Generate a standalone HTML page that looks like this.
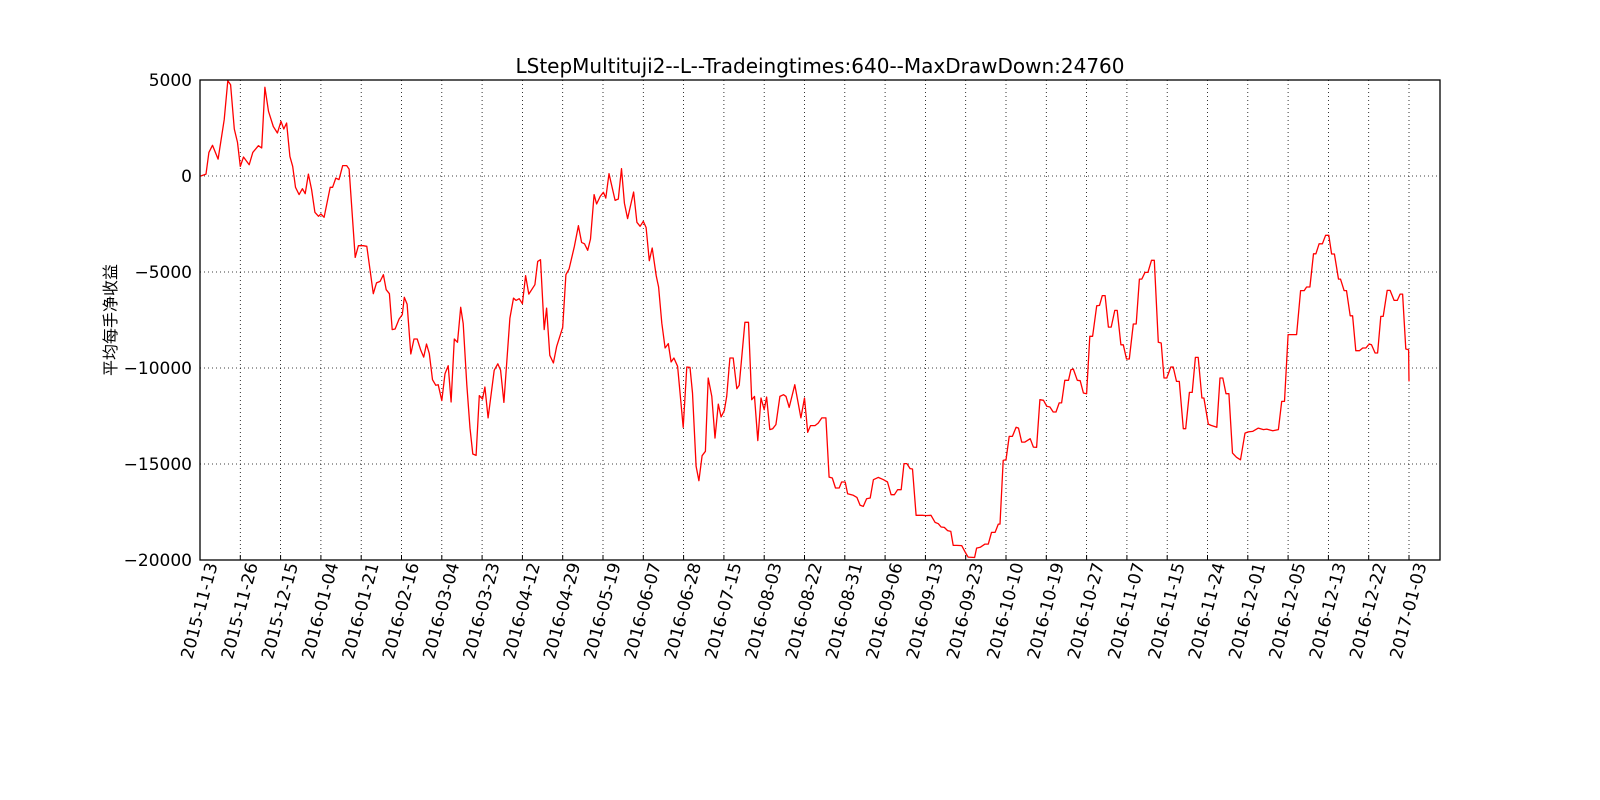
<!DOCTYPE html>
<html>
<head>
<meta charset="utf-8">
<style>
  html, body { margin: 0; padding: 0; background: #fff; }
  svg { display: block; }
  text { font-family: "DejaVu Sans", "Liberation Sans", "Noto Sans CJK SC", sans-serif; fill: #000; }
</style>
</head>
<body>
<svg id="chart" width="1600" height="800" viewBox="0 0 1600 800" xmlns="http://www.w3.org/2000/svg">
  <rect x="0" y="0" width="1600" height="800" fill="#fff"/>
  <g id="grid"></g>
  <g id="series"></g>
  <rect x="200" y="80" width="1240" height="480" fill="none" stroke="#000" stroke-width="1.3"/>
  <g id="xaxis"></g>
  <g id="yaxis"></g>
  <text x="820" y="73" font-size="20" text-anchor="middle">LStepMultituji2--L--Tradeingtimes:640--MaxDrawDown:24760</text>
  <text x="0" y="0" font-size="16" text-anchor="middle" transform="translate(116,320) rotate(-90)" style='font-family:"Noto Sans CJK SC","WenQuanYi Zen Hei",sans-serif'>平均每手净收益</text>
</svg>
<script>
const xTickLabels = ["2015-11-13","2015-11-26","2015-12-15","2016-01-04","2016-01-21","2016-02-16","2016-03-04","2016-03-23","2016-04-12","2016-04-29","2016-05-19","2016-06-07","2016-06-28","2016-07-15","2016-08-03","2016-08-22","2016-08-31","2016-09-06","2016-09-13","2016-09-23","2016-10-10","2016-10-19","2016-10-27","2016-11-07","2016-11-15","2016-11-24","2016-12-01","2016-12-05","2016-12-13","2016-12-22","2017-01-03"];
const yTicks = [5000, 0, -5000, -10000, -15000, -20000];
const yTickLabels = ["5000", "0", "\u22125000", "\u221210000", "\u221215000", "\u221220000"];
// position along the date axis, in tick units (0 = first tick label)
const pos = [0,0.02,0.15,0.22,0.31,0.45,0.60,0.69,0.76,0.85,0.93,1.00,1.08,1.22,1.31,1.45,1.53,1.61,1.70,1.82,1.92,2.01,2.08,2.15,2.23,2.30,2.37,2.46,2.54,2.61,2.69,2.77,2.85,2.94,3.00,3.08,3.23,3.29,3.37,3.45,3.54,3.64,3.70,3.85,3.93,4.05,4.14,4.30,4.38,4.47,4.55,4.62,4.70,4.77,4.84,4.94,5.02,5.07,5.14,5.23,5.31,5.39,5.48,5.55,5.62,5.69,5.77,5.85,5.91,6.00,6.08,6.16,6.23,6.31,6.39,6.47,6.53,6.62,6.70,6.77,6.85,6.93,7.01,7.07,7.15,7.30,7.39,7.46,7.54,7.69,7.78,7.84,7.92,8.00,8.08,8.16,8.31,8.38,8.45,8.54,8.60,8.68,8.77,8.85,9.00,9.08,9.16,9.29,9.39,9.47,9.54,9.62,9.69,9.78,9.84,9.93,10.01,10.07,10.15,10.22,10.30,10.38,10.46,10.53,10.61,10.76,10.84,10.92,11.00,11.07,11.15,11.22,11.32,11.38,11.46,11.54,11.62,11.69,11.76,11.85,11.99,12.08,12.16,12.22,12.31,12.38,12.46,12.54,12.61,12.70,12.78,12.86,12.93,13.01,13.07,13.15,13.23,13.32,13.38,13.52,13.61,13.69,13.76,13.84,13.92,14.00,14.06,14.14,14.21,14.29,14.39,14.48,14.54,14.62,14.76,14.91,15.00,15.08,15.15,15.26,15.34,15.43,15.53,15.61,15.69,15.77,15.86,15.92,16.01,16.07,16.21,16.30,16.38,16.46,16.54,16.63,16.71,16.83,16.96,17.06,17.15,17.23,17.31,17.40,17.47,17.54,17.62,17.68,17.77,17.93,18.01,18.14,18.24,18.32,18.39,18.47,18.55,18.63,18.69,18.78,18.90,19.00,19.06,19.22,19.27,19.36,19.48,19.56,19.64,19.73,19.81,19.85,19.93,20.00,20.08,20.16,20.25,20.31,20.39,20.47,20.60,20.68,20.76,20.84,20.93,21.01,21.09,21.17,21.24,21.32,21.38,21.46,21.55,21.61,21.67,21.77,21.84,21.92,22.00,22.08,22.15,22.25,22.32,22.39,22.46,22.54,22.61,22.70,22.76,22.85,22.91,22.99,23.06,23.16,23.23,23.31,23.37,23.45,23.52,23.61,23.68,23.78,23.85,23.92,23.99,24.09,24.15,24.23,24.30,24.40,24.46,24.55,24.62,24.70,24.77,24.86,24.91,25.02,25.09,25.23,25.31,25.38,25.46,25.53,25.62,25.72,25.82,25.93,26.01,26.12,26.26,26.39,26.47,26.62,26.76,26.84,26.91,27.00,27.21,27.31,27.40,27.46,27.54,27.63,27.69,27.77,27.85,27.93,28.01,28.08,28.15,28.25,28.30,28.39,28.45,28.54,28.60,28.68,28.77,28.85,28.93,29.01,29.07,29.16,29.22,29.30,29.36,29.46,29.53,29.63,29.71,29.78,29.84,29.92,29.99,30.00];
const pnl = [0,0,100,1230,1600,880,2930,4960,4750,2450,1750,500,990,590,1230,1580,1460,4620,3370,2580,2240,2850,2450,2760,1020,500,-590,-970,-660,-920,100,-710,-1890,-2100,-1980,-2150,-590,-590,-110,-190,540,540,360,-4240,-3630,-3630,-3660,-6130,-5570,-5490,-5140,-5920,-6130,-8000,-7970,-7450,-7220,-6320,-6670,-9270,-8490,-8490,-9080,-9430,-8750,-9250,-10610,-10900,-10870,-11700,-10300,-9880,-11770,-8490,-8660,-6840,-7690,-10870,-13130,-14480,-14550,-11440,-11620,-10990,-12600,-10120,-9780,-10120,-11790,-7400,-6360,-6480,-6390,-6650,-5190,-6150,-5660,-4450,-4360,-8000,-6880,-9340,-9740,-8870,-7880,-5140,-4840,-3660,-2590,-3460,-3530,-3870,-3280,-970,-1460,-1060,-850,-1150,120,-540,-1270,-1200,380,-1410,-2220,-835,-2410,-2620,-2360,-2680,-4410,-3750,-5190,-5780,-7660,-8960,-8730,-9690,-9480,-9910,-13090,-9950,-9970,-11300,-15120,-15870,-14570,-14340,-10520,-11480,-13650,-11880,-12550,-12220,-11480,-9480,-9480,-11080,-10900,-7620,-7620,-11650,-11480,-13780,-11560,-12170,-11510,-13210,-13160,-12950,-11480,-11390,-11480,-12050,-10870,-12600,-11560,-13350,-13000,-13000,-12870,-12600,-12600,-15680,-15730,-16250,-16250,-15940,-15940,-16550,-16630,-16740,-17150,-17210,-16810,-16770,-15820,-15700,-15820,-15940,-16600,-16600,-16340,-16340,-14980,-14980,-15240,-15260,-17670,-17670,-17690,-17670,-18040,-18110,-18280,-18300,-18470,-18510,-19240,-19240,-19250,-19640,-19850,-19870,-19380,-19340,-19170,-19170,-18560,-18560,-18130,-18130,-14810,-14780,-13560,-13560,-13090,-13130,-13860,-13860,-13680,-14120,-14130,-11650,-11680,-11990,-12030,-12290,-12290,-11820,-11820,-10640,-10640,-10090,-10050,-10640,-10660,-11300,-11340,-8350,-8350,-6760,-6740,-6230,-6230,-7870,-7870,-7000,-7000,-8790,-8790,-9530,-9530,-7710,-7710,-5370,-5370,-5020,-5020,-4390,-4390,-8660,-8700,-10520,-10520,-9950,-9950,-10700,-10700,-13160,-13160,-11270,-11270,-9450,-9450,-11560,-11560,-12920,-12990,-13090,-10520,-10520,-11340,-11340,-14430,-14650,-14780,-13390,-13330,-13300,-13130,-13210,-13180,-13270,-13210,-11740,-11740,-8260,-8260,-5970,-5970,-5780,-5780,-4050,-4050,-3530,-3530,-3090,-3090,-4060,-4060,-5370,-5370,-5970,-5970,-7280,-7280,-9100,-9100,-8960,-8960,-8750,-8790,-9220,-9220,-7310,-7310,-5960,-5960,-6480,-6480,-6150,-6150,-9010,-9050,-10700];

const NS = "http://www.w3.org/2000/svg";
const PL = 200, PR = 1440, PT = 80, PB = 560;
const X0 = 200, XSTEP = 40.3;
const YMAX = 5000, YMIN = -20000;
function xScale(t) { return X0 + t * XSTEP; }
function yScale(v) { return PT + (YMAX - v) / (YMAX - YMIN) * (PB - PT); }

const grid = document.getElementById('grid');
const xaxis = document.getElementById('xaxis');
const yaxis = document.getElementById('yaxis');
const series = document.getElementById('series');

xTickLabels.forEach(function (lab, i) {
  const x = xScale(i);
  const g = document.createElementNS(NS, 'line');
  g.setAttribute('x1', x); g.setAttribute('x2', x);
  g.setAttribute('y1', PT); g.setAttribute('y2', PB);
  g.setAttribute('stroke', '#000'); g.setAttribute('stroke-width', '0.8');
  g.setAttribute('stroke-dasharray', '1,3');
  
  
  grid.appendChild(g);
  const tk = document.createElementNS(NS, 'line');
  tk.setAttribute('x1', x); tk.setAttribute('x2', x);
  tk.setAttribute('y1', PB); tk.setAttribute('y2', PB - 5);
  tk.setAttribute('stroke', '#000'); tk.setAttribute('stroke-width', '1');
  
  
  xaxis.appendChild(tk);
  const t = document.createElementNS(NS, 'text');
  const cy = 568 + 43;
  t.setAttribute('x', x); t.setAttribute('y', cy);
  t.setAttribute('font-size', '17');
  t.setAttribute('text-anchor', 'middle');
  t.setAttribute('dominant-baseline', 'central');
  t.setAttribute('transform', 'rotate(-75 ' + x + ' ' + cy + ')');
  
  
  t.textContent = lab;
  xaxis.appendChild(t);
});

yTicks.forEach(function (v, i) {
  const y = yScale(v);
  const g = document.createElementNS(NS, 'line');
  g.setAttribute('x1', PL); g.setAttribute('x2', PR);
  g.setAttribute('y1', y); g.setAttribute('y2', y);
  g.setAttribute('stroke', '#000'); g.setAttribute('stroke-width', '0.8');
  g.setAttribute('stroke-dasharray', '1,3');
  
  
  grid.appendChild(g);
  const t = document.createElementNS(NS, 'text');
  t.setAttribute('x', PL - 8); t.setAttribute('y', y + 6);
  t.setAttribute('font-size', '17');
  t.setAttribute('text-anchor', 'end');
  
  
  t.textContent = yTickLabels[i];
  yaxis.appendChild(t);
});

let d = '';
pnl.forEach(function (v, i) {
  d += (i ? 'L' : 'M') + xScale(pos[i]).toFixed(1) + ',' + yScale(v).toFixed(1);
});
const path = document.createElementNS(NS, 'path');
path.setAttribute('d', d);
path.setAttribute('fill', 'none');
path.setAttribute('stroke', '#ff0000');
path.setAttribute('stroke-width', '1.3');
path.setAttribute('stroke-linejoin', 'round');


series.appendChild(path);
</script>
</body>
</html>
